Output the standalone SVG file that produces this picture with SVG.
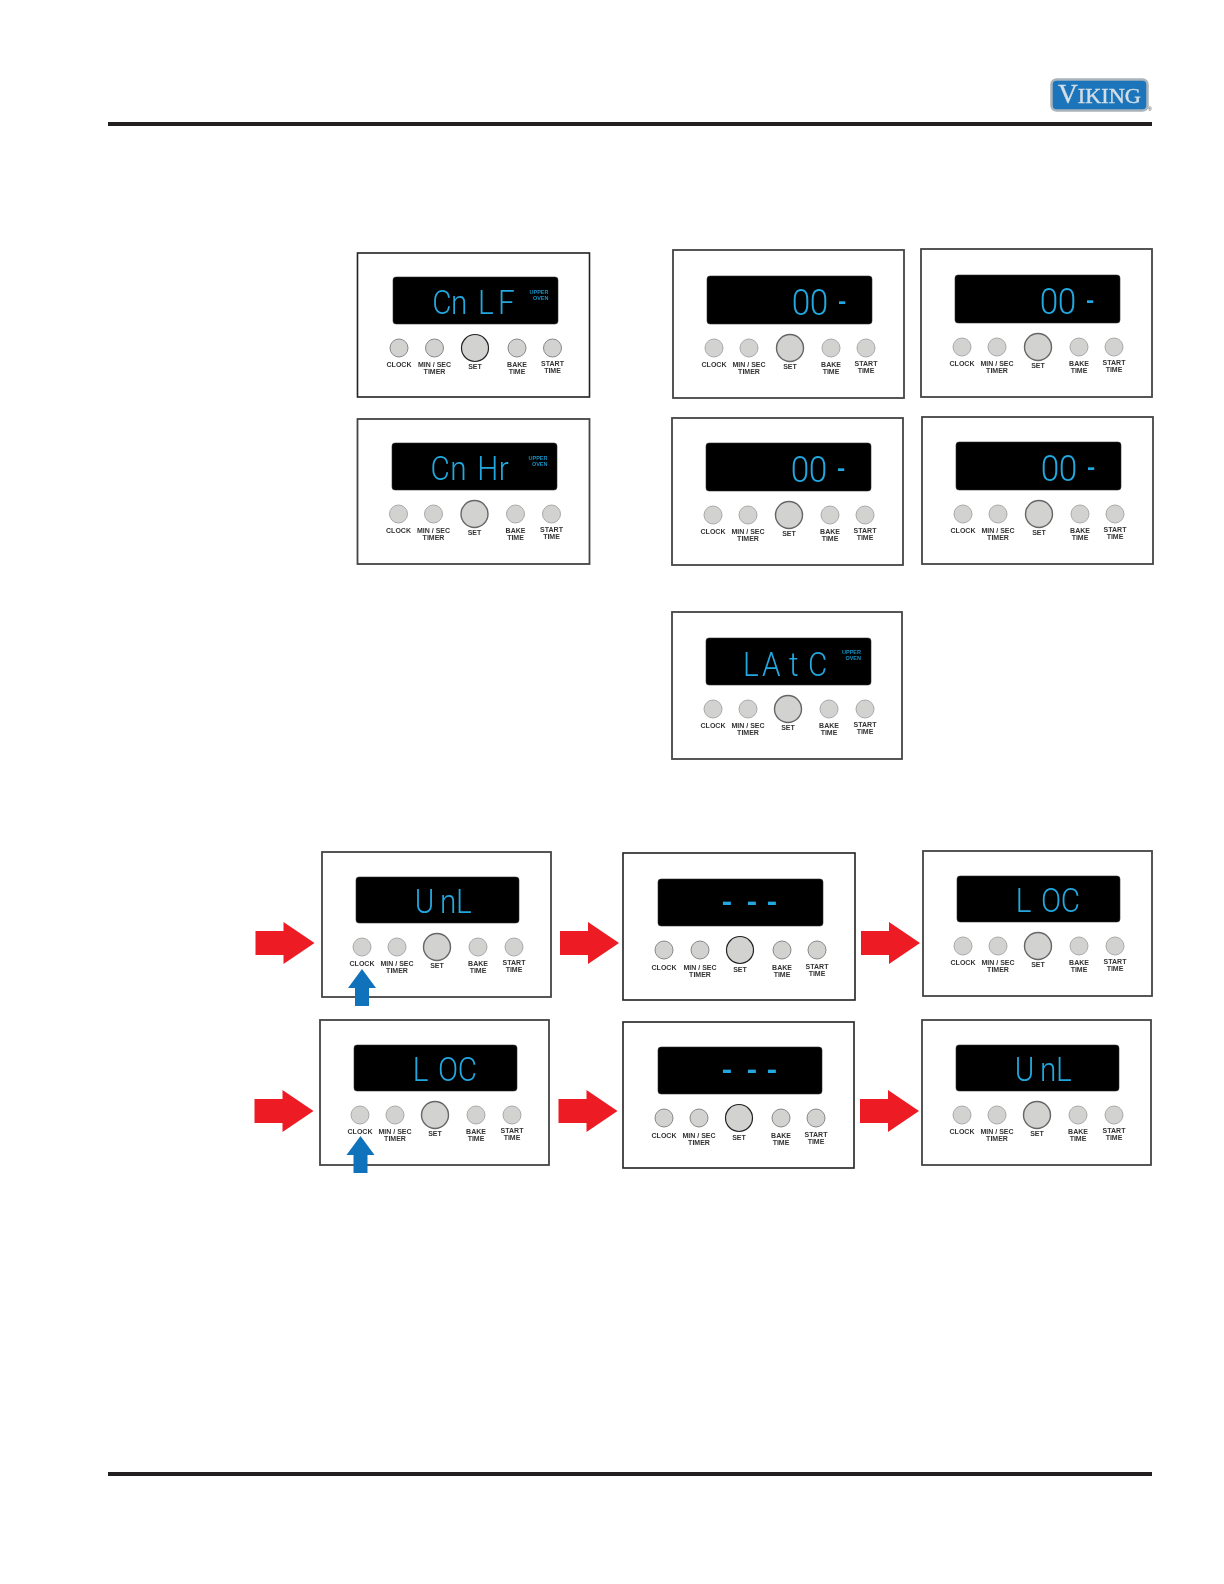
<svg xmlns="http://www.w3.org/2000/svg" width="1224" height="1584" viewBox="0 0 1224 1584">
<style>
.f{fill:#fff;stroke:#444;stroke-width:1.8}
.fs{fill:#fff;stroke:#222;stroke-width:1.6}
.d{fill:#000;stroke:#333;stroke-width:.6}
.b{fill:#d2d2d1;stroke:#aaa;stroke-width:1}
.bs{fill:#d2d2d1;stroke:#888;stroke-width:1}
.set{fill:#d2d2d1;stroke:#666;stroke-width:1.4}
.sets{fill:#d2d2d1;stroke:#222;stroke-width:1.2}
.l{font-family:"Liberation Sans",Arial,sans-serif;font-size:7px;font-weight:700;fill:#333;text-anchor:middle}
.s{font-family:Roboto,"Liberation Sans",sans-serif;font-size:33px;font-weight:300;fill:#22a8e0;transform:scale(.9,1)}
.z{font-size:37px}
.m{font-family:"Liberation Mono","Courier New",monospace;font-size:22px;font-weight:700;fill:#22a8e0}
.m3{font-size:28px}
.u{font-family:"Liberation Sans",Arial,sans-serif;font-size:5.500px;font-weight:700;fill:#1a8fc0;text-anchor:end}
.blur{filter:url(#soft)}
.crisp{filter:url(#light)}
.rule{fill:#231f20}
.red{fill:#ed1c24}
.blue{fill:#0f72ba}
</style>
<defs>
<filter id="soft" x="-5%" y="-5%" width="110%" height="110%"><feGaussianBlur stdDeviation="0.55"/></filter>
<filter id="light" x="-5%" y="-5%" width="110%" height="110%"><feGaussianBlur stdDeviation="0.35"/></filter>
</defs>
<rect width="1224" height="1584" fill="#fff"/>
<g id="header">
<rect class="rule" x="108" y="122" width="1044" height="4"/>
<rect class="rule" x="108" y="1472" width="1044" height="4"/>
</g>
<g id="logo" class="crisp">
<rect x="1051.500" y="79.500" width="96" height="31" rx="5" fill="#1b75bb" stroke="#a9b4bc" stroke-width="2.500"/>
<text x="1058" y="103" font-family="'Liberation Serif',serif" font-size="27" fill="#d5dee4" stroke="#d5dee4" stroke-width=".4" textLength="83" lengthAdjust="spacingAndGlyphs">V<tspan font-size="22">IKING</tspan></text>
<text x="1148" y="111" font-family="'Liberation Sans',sans-serif" font-size="5" fill="#444">®</text>
</g>

<g id="panel-cnlf" class="crisp" transform="translate(357.500,253)">
<rect class="fs" width="232" height="144"/><rect class="d" x="35.500" y="24" width="165" height="47" rx="3"/>
<text class="s" x="83 104 134 156" y="61">CnLF</text>
<text class="u" x="191" y="41">UPPER</text><text class="u" x="191" y="47">OVEN</text>
<circle class="bs" cx="41.500" cy="95" r="9"/><circle class="bs" cx="77" cy="95" r="9"/><circle class="sets" cx="117.500" cy="95" r="13.500"/><circle class="bs" cx="159.500" cy="95" r="9"/><circle class="bs" cx="195" cy="95" r="9"/>
<text class="l" x="41.500" y="114">CLOCK</text><text class="l" x="77" y="114">MIN / SEC</text><text class="l" x="77" y="121">TIMER</text><text class="l" x="117.500" y="116">SET</text><text class="l" x="159.500" y="114">BAKE</text><text class="l" x="159.500" y="121">TIME</text><text class="l" x="195" y="113">START</text><text class="l" x="195" y="120">TIME</text>
</g>
<g id="panel-cnhr" class="blur" transform="translate(357.500,419)">
<rect class="f" width="232" height="145"/><rect class="d" x="34.500" y="24" width="165" height="47" rx="3"/>
<text class="s" x="81 103 133 157" y="61">CnHr</text>
<text class="u" x="190" y="41">UPPER</text><text class="u" x="190" y="47">OVEN</text>
<circle class="b" cx="41" cy="95" r="9"/><circle class="b" cx="76" cy="95" r="9"/><circle class="set" cx="117" cy="95" r="13.500"/><circle class="b" cx="158" cy="95" r="9"/><circle class="b" cx="194" cy="95" r="9"/>
<text class="l" x="41" y="114">CLOCK</text><text class="l" x="76" y="114">MIN / SEC</text><text class="l" x="76" y="121">TIMER</text><text class="l" x="117" y="116">SET</text><text class="l" x="158" y="114">BAKE</text><text class="l" x="158" y="121">TIME</text><text class="l" x="194" y="113">START</text><text class="l" x="194" y="120">TIME</text>
</g>
<g id="panel-00-a" class="blur" transform="translate(673,250)">
<rect class="f" width="231" height="148"/><rect class="d" x="34" y="26" width="165" height="48" rx="3"/>
<text class="s z" x="132 152" y="65">00</text><text class="m" x="162.500" y="58">-</text>
<circle class="b" cx="41" cy="98" r="9"/><circle class="b" cx="76" cy="98" r="9"/><circle class="set" cx="117" cy="98" r="13.500"/><circle class="b" cx="158" cy="98" r="9"/><circle class="b" cx="193" cy="98" r="9"/>
<text class="l" x="41" y="117">CLOCK</text><text class="l" x="76" y="117">MIN / SEC</text><text class="l" x="76" y="124">TIMER</text><text class="l" x="117" y="119">SET</text><text class="l" x="158" y="117">BAKE</text><text class="l" x="158" y="124">TIME</text><text class="l" x="193" y="116">START</text><text class="l" x="193" y="123">TIME</text>
</g>
<g id="panel-00-b" class="blur" transform="translate(921,249)">
<rect class="f" width="231" height="148"/><rect class="d" x="34" y="26" width="165" height="48" rx="3"/>
<text class="s z" x="132 152" y="65">00</text><text class="m" x="162.500" y="58">-</text>
<circle class="b" cx="41" cy="98" r="9"/><circle class="b" cx="76" cy="98" r="9"/><circle class="set" cx="117" cy="98" r="13.500"/><circle class="b" cx="158" cy="98" r="9"/><circle class="b" cx="193" cy="98" r="9"/>
<text class="l" x="41" y="117">CLOCK</text><text class="l" x="76" y="117">MIN / SEC</text><text class="l" x="76" y="124">TIMER</text><text class="l" x="117" y="119">SET</text><text class="l" x="158" y="117">BAKE</text><text class="l" x="158" y="124">TIME</text><text class="l" x="193" y="116">START</text><text class="l" x="193" y="123">TIME</text>
</g>
<g id="panel-00-c" class="blur" transform="translate(672,418)">
<rect class="f" width="231" height="147"/><rect class="d" x="34" y="25" width="165" height="48" rx="3"/>
<text class="s z" x="132 152" y="64">00</text><text class="m" x="162.500" y="57">-</text>
<circle class="b" cx="41" cy="97" r="9"/><circle class="b" cx="76" cy="97" r="9"/><circle class="set" cx="117" cy="97" r="13.500"/><circle class="b" cx="158" cy="97" r="9"/><circle class="b" cx="193" cy="97" r="9"/>
<text class="l" x="41" y="116">CLOCK</text><text class="l" x="76" y="116">MIN / SEC</text><text class="l" x="76" y="123">TIMER</text><text class="l" x="117" y="118">SET</text><text class="l" x="158" y="116">BAKE</text><text class="l" x="158" y="123">TIME</text><text class="l" x="193" y="115">START</text><text class="l" x="193" y="122">TIME</text>
</g>
<g id="panel-00-d" class="blur" transform="translate(922,417)">
<rect class="f" width="231" height="147"/><rect class="d" x="34" y="25" width="165" height="48" rx="3"/>
<text class="s z" x="132 152" y="64">00</text><text class="m" x="162.500" y="57">-</text>
<circle class="b" cx="41" cy="97" r="9"/><circle class="b" cx="76" cy="97" r="9"/><circle class="set" cx="117" cy="97" r="13.500"/><circle class="b" cx="158" cy="97" r="9"/><circle class="b" cx="193" cy="97" r="9"/>
<text class="l" x="41" y="116">CLOCK</text><text class="l" x="76" y="116">MIN / SEC</text><text class="l" x="76" y="123">TIMER</text><text class="l" x="117" y="118">SET</text><text class="l" x="158" y="116">BAKE</text><text class="l" x="158" y="123">TIME</text><text class="l" x="193" y="115">START</text><text class="l" x="193" y="122">TIME</text>
</g>
<g id="panel-latc" class="blur" transform="translate(672,612)">
<rect class="f" width="230" height="147"/><rect class="d" x="34" y="26" width="165" height="47" rx="3"/>
<text class="s" x="79 100 130 151" y="64">LAtC</text>
<text class="u" x="189" y="42">UPPER</text><text class="u" x="189" y="48">OVEN</text>
<circle class="b" cx="41" cy="97" r="9"/><circle class="b" cx="76" cy="97" r="9"/><circle class="set" cx="116" cy="97" r="13.500"/><circle class="b" cx="157" cy="97" r="9"/><circle class="b" cx="193" cy="97" r="9"/>
<text class="l" x="41" y="116">CLOCK</text><text class="l" x="76" y="116">MIN / SEC</text><text class="l" x="76" y="123">TIMER</text><text class="l" x="116" y="118">SET</text><text class="l" x="157" y="116">BAKE</text><text class="l" x="157" y="123">TIME</text><text class="l" x="193" y="115">START</text><text class="l" x="193" y="122">TIME</text>
</g>

<g id="panel-unl-a" class="blur" transform="translate(322,852)">
<rect class="f" width="229" height="145"/><rect class="d" x="34" y="25" width="163" height="46" rx="3"/>
<text class="s" x="103 131 149" y="61">UnL</text>
<circle class="b" cx="40" cy="95" r="9"/><circle class="b" cx="75" cy="95" r="9"/><circle class="set" cx="115" cy="95" r="13.500"/><circle class="b" cx="156" cy="95" r="9"/><circle class="b" cx="192" cy="95" r="9"/>
<text class="l" x="40" y="114">CLOCK</text><text class="l" x="75" y="114">MIN / SEC</text><text class="l" x="75" y="121">TIMER</text><text class="l" x="115" y="116">SET</text><text class="l" x="156" y="114">BAKE</text><text class="l" x="156" y="121">TIME</text><text class="l" x="192" y="113">START</text><text class="l" x="192" y="120">TIME</text>
</g>
<g id="panel-dash-a" class="crisp" transform="translate(623,853)">
<rect class="fs" width="232" height="147"/><rect class="d" x="35" y="26" width="165" height="47" rx="3"/>
<text class="m m3" x="95.500 120.500 140.500" y="58">---</text>
<circle class="bs" cx="41" cy="97" r="9"/><circle class="bs" cx="77" cy="97" r="9"/><circle class="sets" cx="117" cy="97" r="13.500"/><circle class="bs" cx="159" cy="97" r="9"/><circle class="bs" cx="194" cy="97" r="9"/>
<text class="l" x="41" y="117">CLOCK</text><text class="l" x="77" y="117">MIN / SEC</text><text class="l" x="77" y="124">TIMER</text><text class="l" x="117" y="119">SET</text><text class="l" x="159" y="117">BAKE</text><text class="l" x="159" y="124">TIME</text><text class="l" x="194" y="116">START</text><text class="l" x="194" y="123">TIME</text>
</g>
<g id="panel-loc-a" class="blur" transform="translate(923,851)">
<rect class="f" width="229" height="145"/><rect class="d" x="34" y="25" width="163" height="46" rx="3"/>
<text class="s" x="103 131 153" y="61">LOC</text>
<circle class="b" cx="40" cy="95" r="9"/><circle class="b" cx="75" cy="95" r="9"/><circle class="set" cx="115" cy="95" r="13.500"/><circle class="b" cx="156" cy="95" r="9"/><circle class="b" cx="192" cy="95" r="9"/>
<text class="l" x="40" y="114">CLOCK</text><text class="l" x="75" y="114">MIN / SEC</text><text class="l" x="75" y="121">TIMER</text><text class="l" x="115" y="116">SET</text><text class="l" x="156" y="114">BAKE</text><text class="l" x="156" y="121">TIME</text><text class="l" x="192" y="113">START</text><text class="l" x="192" y="120">TIME</text>
</g>
<g id="panel-loc-b" class="blur" transform="translate(320,1020)">
<rect class="f" width="229" height="145"/><rect class="d" x="34" y="25" width="163" height="46" rx="3"/>
<text class="s" x="103 131 153" y="61">LOC</text>
<circle class="b" cx="40" cy="95" r="9"/><circle class="b" cx="75" cy="95" r="9"/><circle class="set" cx="115" cy="95" r="13.500"/><circle class="b" cx="156" cy="95" r="9"/><circle class="b" cx="192" cy="95" r="9"/>
<text class="l" x="40" y="114">CLOCK</text><text class="l" x="75" y="114">MIN / SEC</text><text class="l" x="75" y="121">TIMER</text><text class="l" x="115" y="116">SET</text><text class="l" x="156" y="114">BAKE</text><text class="l" x="156" y="121">TIME</text><text class="l" x="192" y="113">START</text><text class="l" x="192" y="120">TIME</text>
</g>
<g id="panel-dash-b" class="crisp" transform="translate(623,1022)">
<rect class="fs" width="231" height="146"/><rect class="d" x="35" y="25" width="164" height="47" rx="3"/>
<text class="m m3" x="95.500 120.500 140.500" y="57">---</text>
<circle class="bs" cx="41" cy="96" r="9"/><circle class="bs" cx="76" cy="96" r="9"/><circle class="sets" cx="116" cy="96" r="13.500"/><circle class="bs" cx="158" cy="96" r="9"/><circle class="bs" cx="193" cy="96" r="9"/>
<text class="l" x="41" y="116">CLOCK</text><text class="l" x="76" y="116">MIN / SEC</text><text class="l" x="76" y="123">TIMER</text><text class="l" x="116" y="118">SET</text><text class="l" x="158" y="116">BAKE</text><text class="l" x="158" y="123">TIME</text><text class="l" x="193" y="115">START</text><text class="l" x="193" y="122">TIME</text>
</g>
<g id="panel-unl-b" class="blur" transform="translate(922,1020)">
<rect class="f" width="229" height="145"/><rect class="d" x="34" y="25" width="163" height="46" rx="3"/>
<text class="s" x="103 131 149" y="61">UnL</text>
<circle class="b" cx="40" cy="95" r="9"/><circle class="b" cx="75" cy="95" r="9"/><circle class="set" cx="115" cy="95" r="13.500"/><circle class="b" cx="156" cy="95" r="9"/><circle class="b" cx="192" cy="95" r="9"/>
<text class="l" x="40" y="114">CLOCK</text><text class="l" x="75" y="114">MIN / SEC</text><text class="l" x="75" y="121">TIMER</text><text class="l" x="115" y="116">SET</text><text class="l" x="156" y="114">BAKE</text><text class="l" x="156" y="121">TIME</text><text class="l" x="192" y="113">START</text><text class="l" x="192" y="120">TIME</text>
</g>

<g id="connectors">
<defs><path id="ra" d="M0-12H28V-21L59 0 28 21V12H0Z"/><path id="ba" d="M-7 37V19H-14L0 0 14 19H7V37Z"/></defs>
<use href="#ra" class="red" x="255.500" y="943"/>
<use href="#ra" class="red" x="560" y="943"/>
<use href="#ra" class="red" x="861" y="943"/>
<use href="#ra" class="red" x="254.500" y="1111"/>
<use href="#ra" class="red" x="558.500" y="1111"/>
<use href="#ra" class="red" x="860" y="1111"/>
<use href="#ba" class="blue" x="362" y="969"/>
<use href="#ba" class="blue" x="360.500" y="1136"/>
</g>
</svg>
